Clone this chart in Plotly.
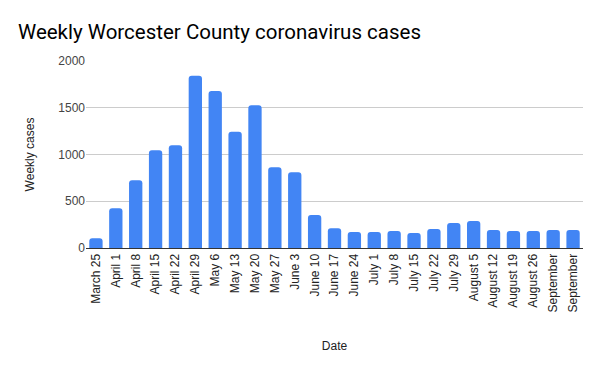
import plotly.graph_objects as go

categories = ["March 25", "April 1", "April 8", "April 15", "April 22", "April 29",
              "May 6", "May 13", "May 20", "May 27", "June 3", "June 10", "June 17",
              "June 24", "July 1", "July 8", "July 15", "July 22", "July 29",
              "August 5", "August 12", "August 19", "August 26", "September 2", "September 9"]
tick_labels = categories[:-2] + ["September", "September"]
weekly_cases = [105, 425, 725, 1046, 1100, 1842, 1678, 1243, 1528, 864, 810, 353, 212,
                171, 171, 182, 161, 203, 268, 289, 193, 182, 182, 193, 193]

fig = go.Figure(go.Bar(
    x=categories, y=weekly_cases,
    marker=dict(color="#4285F4", cornerradius=3, line=dict(width=0)),
))

fig.update_layout(
    width=600, height=371,
    margin=dict(l=78, r=25, t=53, b=131, autoexpand=False),
    paper_bgcolor="white", plot_bgcolor="white",
    bargap=0.33,
    showlegend=False,
    title=dict(text="Weekly Worcester County coronavirus cases", x=10 / 600, xanchor="left",
               xref="container", y=1 - 24 / 371, yanchor="middle", automargin=False,
               font=dict(family="Roboto, Arial, sans-serif", size=20.5, color="#000")),
    font=dict(family="Arial, Liberation Sans, sans-serif", size=12, color="#222"),
)
fig.update_xaxes(
    tickmode="array", tickvals=categories, ticktext=tick_labels, tickangle=-90,
    showline=True, linecolor="#333", linewidth=1, ticks="", automargin=False,
    tickfont=dict(size=12, color="#222"),
    title=dict(text="Date", font=dict(size=12, color="#222"), standoff=30),
)
fig.update_yaxes(
    range=[0, 2000], dtick=500, showgrid=True, gridcolor="#cccccc", zeroline=False,
    tickfont=dict(size=12, color="#444"), ticks="", ticklen=0, automargin=False,
    title=dict(text="Weekly cases", font=dict(size=12, color="#222"), standoff=21),
)

fig.write_html("out.html")
